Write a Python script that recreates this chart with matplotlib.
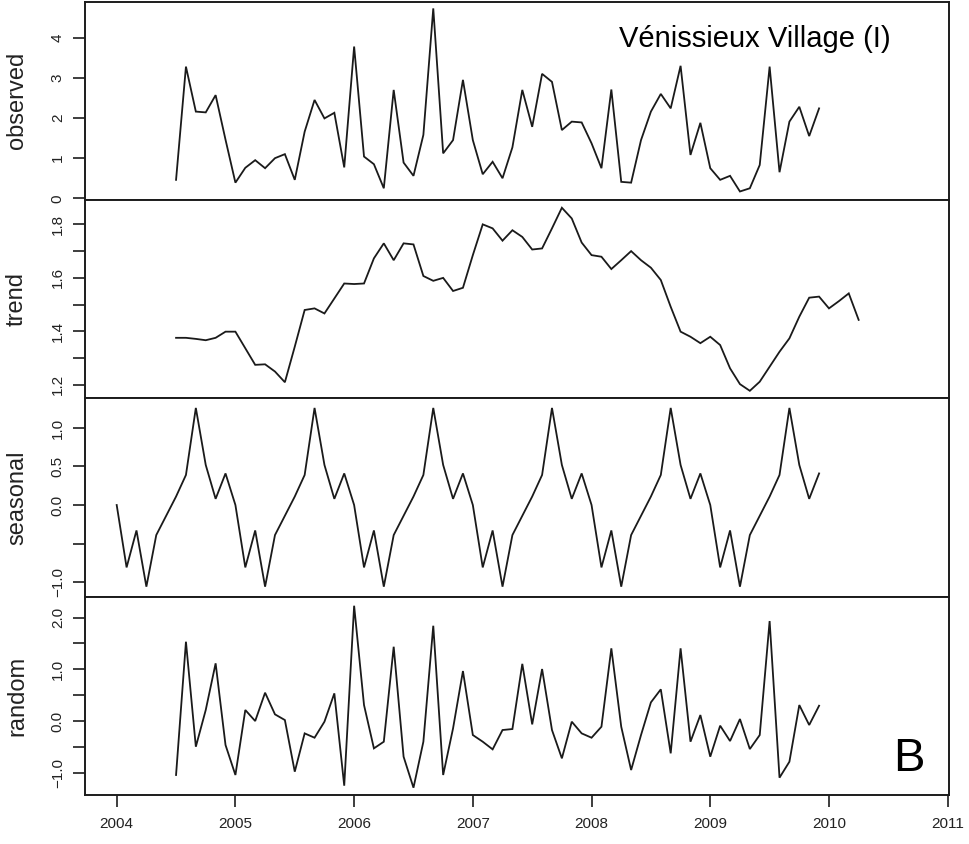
import numpy as np
import matplotlib
matplotlib.use("Agg")
import matplotlib.pyplot as plt
from matplotlib.ticker import FixedLocator, FixedFormatter

plt.rcParams['font.family'] = ['Liberation Sans', 'DejaVu Sans']

# Monthly time series components (decomposition of the Vénissieux Village series)
observed_start = 2004 + 6 / 12
observed = [0.46, 3.28, 2.16, 2.14, 2.57, 1.46, 0.39, 0.76, 0.95, 0.75,
            1.00, 1.10, 0.46, 1.66, 2.45, 1.99, 2.13, 0.77, 3.78, 1.04,
            0.85, 0.25, 2.70, 0.89, 0.56, 1.58, 4.73, 1.12, 1.45, 2.95,
            1.45, 0.60, 0.91, 0.50, 1.27, 2.70, 1.78, 3.10, 2.90, 1.70,
            1.91, 1.89, 1.37, 0.75, 2.71, 0.41, 0.39, 1.45, 2.16, 2.60,
            2.24, 3.30, 1.08, 1.88, 0.75, 0.46, 0.56, 0.17, 0.25, 0.83,
            3.28, 0.65, 1.91, 2.28, 1.55, 2.24]

trend_start = 2004 + 6 / 12
trend = [1.376, 1.376, 1.372, 1.367, 1.376, 1.399, 1.399, 1.337, 1.275, 1.277,
         1.250, 1.210, 1.343, 1.480, 1.486, 1.467, 1.523, 1.579, 1.577, 1.579,
         1.673, 1.729, 1.666, 1.729, 1.725, 1.607, 1.589, 1.600, 1.551, 1.563,
         1.685, 1.800, 1.785, 1.739, 1.778, 1.753, 1.706, 1.710, 1.785, 1.862,
         1.822, 1.732, 1.685, 1.679, 1.633, 1.666, 1.700, 1.666, 1.638, 1.592,
         1.492, 1.399, 1.380, 1.356, 1.380, 1.349, 1.262, 1.203, 1.178, 1.212,
         1.268, 1.324, 1.374, 1.455, 1.526, 1.530, 1.486, 1.513, 1.542, 1.443]

seasonal_start = 2004.0
seasonal = [0.00, -0.81, -0.33, -1.06, -0.39, -0.14, 0.11, 0.39, 1.26, 0.52, 0.08, 0.41,
            0.00, -0.81, -0.33, -1.06, -0.39, -0.14, 0.11, 0.39, 1.26, 0.52, 0.08, 0.41,
            0.00, -0.81, -0.33, -1.06, -0.39, -0.14, 0.11, 0.39, 1.26, 0.52, 0.08, 0.41,
            0.00, -0.81, -0.33, -1.06, -0.39, -0.14, 0.11, 0.39, 1.26, 0.52, 0.08, 0.41,
            0.00, -0.81, -0.33, -1.06, -0.39, -0.14, 0.11, 0.39, 1.26, 0.52, 0.08, 0.41,
            0.00, -0.81, -0.33, -1.06, -0.39, -0.14, 0.11, 0.39, 1.26, 0.52, 0.08, 0.41]

random_start = 2004 + 6 / 12
random_part = [-1.044, 1.534, -0.497, 0.213, 1.116, -0.464, -1.044, 0.213, 0.000, 0.548,
               0.129, 0.019, -0.980, -0.239, -0.323, -0.013, 0.535, -1.251, 2.230, 0.309,
               -0.529, -0.400, 1.437, -0.690, -1.290, -0.400, 1.843, -1.044, -0.142, 0.967,
               -0.271, -0.400, -0.548, -0.174, -0.155, 1.106, -0.065, 1.006, -0.174, -0.722,
               -0.013, -0.239, -0.323, -0.110, 1.406, -0.110, -0.948, -0.271, 0.361, 0.613,
               -0.625, 1.406, -0.400, 0.116, -0.690, -0.090, -0.387, 0.039, -0.542, -0.271,
               1.934, -1.096, -0.787, 0.309, -0.077, 0.296]

panel_names = ["observed", "trend", "seasonal", "random"]
year_ticks = [2004, 2005, 2006, 2007, 2008, 2009, 2010, 2011]

title_text = "Vénissieux Village (I)"
panel_letter = "B"


def monthly_index(start, values):
    return start + np.arange(len(values)) / 12.0


series = [
    (monthly_index(observed_start, observed), observed),
    (monthly_index(trend_start, trend), trend),
    (monthly_index(seasonal_start, seasonal), seasonal),
    (monthly_index(random_start, random_part), random_part),
]

ylims = [(-0.042, 4.897), (1.150, 1.891), (-1.19, 1.385), (-1.431, 2.405)]
ytick_major = [
    ([0, 1, 2, 3, 4], ["0", "1", "2", "3", "4"]),
    ([1.2, 1.3, 1.4, 1.5, 1.6, 1.7, 1.8], ["1.2", "", "1.4", "", "1.6", "", "1.8"]),
    ([-1.0, -0.5, 0.0, 0.5, 1.0], ["\u22121.0", "", "0.0", "0.5", "1.0"]),
    ([-1.0, -0.5, 0.0, 0.5, 1.0, 1.5, 2.0], ["\u22121.0", "", "0.0", "", "1.0", "", "2.0"]),
]

W, H = 969, 844
fig = plt.figure(figsize=(W / 100, H / 100), dpi=100)

left_px, right_px = 85, 949
panel_edges = [1.7, 200, 398.3, 596.7, 795]
line_color = "#1a1a1a"
text_color = "#222222"

axes = []
for i in range(4):
    top, bot = panel_edges[i], panel_edges[i + 1]
    ax = fig.add_axes([left_px / W, (H - bot) / H, (right_px - left_px) / W, (bot - top) / H])
    t, v = series[i]
    ax.plot(t, v, color=line_color, lw=1.3, solid_joinstyle="miter")
    ax.set_xlim(2003.733, 2011.011)
    ax.set_ylim(*ylims[i])
    for s in ax.spines.values():
        s.set_linewidth(1.4)
        s.set_color("#1c1c1c")
    locs, labs = ytick_major[i]
    ax.yaxis.set_major_locator(FixedLocator(locs))
    ax.yaxis.set_major_formatter(FixedFormatter(labs))
    ax.tick_params(axis="y", direction="out", length=8.5, width=1.2, color="#1c1c1c",
                   labelsize=11, labelrotation=90, pad=6, labelcolor=text_color)
    for lab in ax.get_yticklabels():
        lab.set_va("center")
    if i < 3:
        ax.tick_params(axis="x", which="both", bottom=False, labelbottom=False)
    else:
        ax.set_xticks(year_ticks)
        ax.set_xticklabels([str(y) for y in year_ticks])
        ax.tick_params(axis="x", direction="out", length=8.5, width=1.2, color="#1c1c1c",
                       labelsize=11, pad=7, labelcolor=text_color)
    fig.text(17 / W, 1 - (top + bot) / 2 / H, panel_names[i], rotation=90,
             ha="center", va="center", fontsize=17, color=text_color)
    axes.append(ax)

fig.text(619 / W, 1 - 47 / H, title_text, ha="left", va="baseline", fontsize=21, color="black")
fig.text(893 / W, 1 - 771 / H, panel_letter, ha="left", va="baseline", fontsize=34, color="black")

fig.savefig("out.png", dpi=100)
